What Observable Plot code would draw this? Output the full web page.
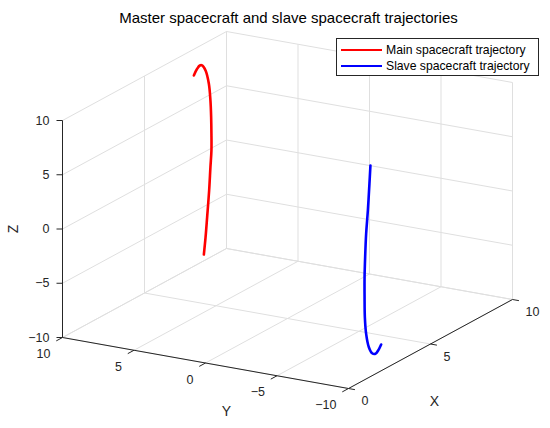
<!DOCTYPE html>
<html>
<head>
<meta charset="utf-8">
<script src="https://cdn.jsdelivr.net/npm/d3@7"></script>
<script src="https://cdn.jsdelivr.net/npm/@observablehq/plot@0.6"></script>
<style>
  html, body { margin: 0; padding: 0; background: #fff; overflow: hidden; }
  #wrap { position: relative; width: 550px; height: 428px; font-family: "Liberation Sans", Arial, sans-serif; }
  #legend { position: absolute; left: 336px; top: 38px; width: 203px; height: 38px; box-sizing: border-box;
            border: 1px solid #262626; background: #fff; }
  .row { position: absolute; left: 0; height: 16px; display: flex; align-items: center; font-size: 12.2px; color: #000; white-space: nowrap; }
  .sw { width: 41px; height: 0; border-top: 2.4px solid; margin-left: 4px; margin-right: 4px; }
</style>
</head>
<body>
<div id="wrap"></div>
<script>
// ---- data (3D samples) ----
const title = "Master spacecraft and slave spacecraft trajectories";
const seriesNames = ["Main spacecraft trajectory", "Slave spacecraft trajectory"];
const seriesColors = ["#ff0000", "#0000ff"];

const mainX = [8, 8, 8, 8, 8, 8, 8, 8, 8, 8, 8, 8, 8, 8, 8];
const mainY = [9.29, 9.17, 9.06, 8.92, 8.83, 8.76, 8.76, 8.78, 8.83, 8.94, 9.17, 9.41, 9.57, 9.76, 9.99];
const mainZ = [-8.75, -7.12, -5.25, -2.76, -0.59, 0.96, 2.50, 4.03, 5.56, 7.07, 8.24, 8.65, 8.61, 8.26, 7.59];

const slaveX = [2, 2, 2, 2, 2, 2, 2, 2, 2, 2, 2, 2, 2, 2];
const slaveY = [-9.24, -9.17, -9.06, -8.94, -8.87, -8.83, -8.83, -8.85, -8.94, -9.13, -9.36, -9.59, -9.78, -9.99];
const slaveZ = [8.73, 7.03, 4.54, 2.37, 0.20, -1.66, -3.50, -5.34, -6.85, -8.04, -8.54, -8.54, -8.19, -7.59];

const xTicks = [0, 5, 10];
const yTicks = [-10, -5, 0, 5, 10];
const zTicks = [-10, -5, 0, 5, 10];
const xLim = [0, 10], yLim = [-10, 10], zLim = [-10, 10];

// ---- 3D view (orthographic projection, measured axes vectors) ----
const W = 550, H = 428;
const O = [205, 254];          // screen position of (0,0,0)
const EX = [16.4, -8.9];       // per unit X
const EY = [-14.3, -2.55];     // per unit Y
const EZ = [0, -10.85];        // per unit Z
const P = (x, y, z) => [O[0] + EX[0]*x + EY[0]*y + EZ[0]*z, O[1] + EX[1]*x + EY[1]*y + EZ[1]*z];
const seg = (a, b) => { const p = P(...a), q = P(...b); return {x1: p[0], y1: p[1], x2: q[0], y2: q[1]}; };

const [x0, x1] = xLim, [y0, y1] = yLim, [z0, z1] = zLim;

// grid on back walls and floor
const grid = [];
for (const y of yTicks) grid.push(seg([x1, y, z0], [x1, y, z1]));
for (const z of zTicks) grid.push(seg([x1, y0, z], [x1, y1, z]));
for (const x of xTicks) grid.push(seg([x, y1, z0], [x, y1, z1]));
for (const z of zTicks) grid.push(seg([x0, y1, z], [x1, y1, z]));
for (const x of xTicks) grid.push(seg([x, y0, z0], [x, y1, z0]));
for (const y of yTicks) grid.push(seg([x0, y, z0], [x1, y, z0]));

// axis lines
const axes = [
  seg([x0, y1, z0], [x0, y1, z1]),  // Z
  seg([x0, y0, z0], [x0, y1, z0]),  // Y
  seg([x0, y0, z0], [x1, y0, z0])   // X
];

// ticks
const ticks = [];
for (const z of zTicks) { const p = P(x0, y1, z); ticks.push({x1: p[0], y1: p[1], x2: p[0] - 6, y2: p[1]}); }
for (const y of yTicks) ticks.push(seg([x0, y, z0], [x0 - 0.38, y, z0]));
for (const x of xTicks) ticks.push(seg([x, y0, z0], [x, y0 - 0.45, z0]));

const fmt = v => (v < 0 ? "\u2212" + Math.abs(v) : String(v));
const zLabels = zTicks.map(z => { const p = P(x0, y1, z); return {x: p[0], y: p[1], t: fmt(z)}; });
const yLabels = yTicks.map(y => { const p = P(x0, y, z0); return {x: p[0], y: p[1], t: fmt(y)}; });
const xLabels = xTicks.map(x => { const p = P(x, y0, z0); return {x: p[0], y: p[1], t: fmt(x)}; });

const toLine = (X, Y, Z, name) => X.map((_, i) => { const p = P(X[i], Y[i], Z[i]); return {x: p[0], y: p[1], name}; });
const mainPts = toLine(mainX, mainY, mainZ, seriesNames[0]);
const slavePts = toLine(slaveX, slaveY, slaveZ, seriesNames[1]);

const pY = P(x0, 0, z0), pX = P(5, y0, z0), pZ = P(x0, y1, 0);
const font = "Liberation Sans, Arial, sans-serif";
const ink = "#262626";

const chart = Plot.plot({
  width: W, height: H,
  margin: 0,
  x: {type: "linear", domain: [0, W], range: [0, W], axis: null},
  y: {type: "linear", domain: [0, H], range: [0, H], axis: null},
  style: {fontFamily: font, background: "#fff"},
  marks: [
    Plot.link(grid, {x1: "x1", y1: "y1", x2: "x2", y2: "y2", stroke: "#dfdfdf", strokeWidth: 1}),
    Plot.link(axes, {x1: "x1", y1: "y1", x2: "x2", y2: "y2", stroke: ink, strokeWidth: 1}),
    Plot.link(ticks, {x1: "x1", y1: "y1", x2: "x2", y2: "y2", stroke: ink, strokeWidth: 1}),
    Plot.text(zLabels, {x: "x", y: "y", text: "t", textAnchor: "end", dx: -13, fontSize: 12.5, fill: ink}),
    Plot.text(yLabels, {x: "x", y: "y", text: "t", textAnchor: "end", dx: -12, dy: 16.5, fontSize: 12.5, fill: ink}),
    Plot.text(xLabels, {x: "x", y: "y", text: "t", textAnchor: "start", dx: 13, dy: 12.5, fontSize: 12.5, fill: ink}),
    Plot.text(["Z"], {x: pZ[0], y: pZ[1], text: d => d, dx: -48.5, rotate: -90, fontSize: 14, fill: ink}),
    Plot.text(["Y"], {x: pY[0], y: pY[1], text: d => d, dx: 21, dy: 48.5, fontSize: 14, fill: ink}),
    Plot.text(["X"], {x: pX[0], y: pX[1], text: d => d, dx: 4, dy: 57.5, fontSize: 14, fill: ink}),
    Plot.line(mainPts, {x: "x", y: "y", stroke: seriesColors[0], strokeWidth: 2.6, curve: "catmull-rom"}),
    Plot.line(slavePts, {x: "x", y: "y", stroke: seriesColors[1], strokeWidth: 2.6, curve: "catmull-rom"}),
    Plot.text([title], {x: 288, y: 18, text: d => d, fontSize: 15, fill: "#000"})
  ]
});

const wrap = document.getElementById("wrap");
wrap.appendChild(chart);

// legend
const legend = document.createElement("div");
legend.id = "legend";
seriesNames.forEach((name, i) => {
  const row = document.createElement("div");
  row.className = "row";
  row.style.top = (3 + i * 16) + "px";
  const sw = document.createElement("span");
  sw.className = "sw";
  sw.style.borderTopColor = seriesColors[i];
  const t = document.createElement("span");
  t.textContent = name;
  row.appendChild(sw); row.appendChild(t);
  legend.appendChild(row);
});
wrap.appendChild(legend);
</script>
</body>
</html>
